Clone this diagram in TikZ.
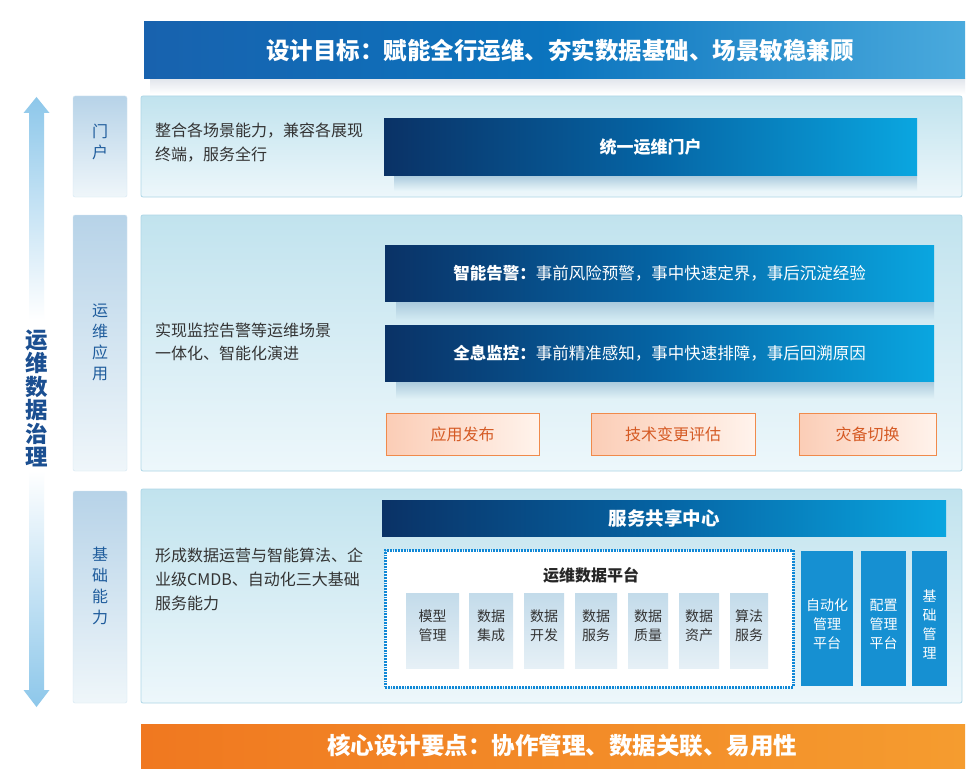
\documentclass[tikz,border=0pt]{standalone}
\usepackage{fontspec}
\setmainfont{Noto Sans CJK SC}
\definecolor{labtop}{HTML}{B7D3E8}
\definecolor{labbot}{HTML}{EFF6FA}
\definecolor{labdraw}{HTML}{D4E7F2}
\definecolor{labtxt}{HTML}{1F5C9C}
\definecolor{pantop}{HTML}{C1E3EE}
\definecolor{panbot}{HTML}{EDF7FB}
\definecolor{pandraw}{HTML}{AED7E7}
\definecolor{desctxt}{HTML}{333333}
\definecolor{navy}{HTML}{0A3266}
\definecolor{midblue}{HTML}{0564A4}
\definecolor{cyanb}{HTML}{0AA6E0}
\definecolor{topl}{HTML}{1862AE}
\definecolor{topm}{HTML}{0B74BE}
\definecolor{topr}{HTML}{4AAADD}
\definecolor{orl}{HTML}{F07820}
\definecolor{orr}{HTML}{F59C2F}
\definecolor{peachl}{HTML}{FBCDB6}
\definecolor{peachr}{HTML}{FFF3EC}
\definecolor{peachdraw}{HTML}{F08A4B}
\definecolor{peachtxt}{HTML}{D55A24}
\definecolor{smtop}{HTML}{C3DBEA}
\definecolor{smbot}{HTML}{E6F0F6}
\definecolor{colblue}{HTML}{1690D2}
\definecolor{dotblue}{HTML}{1088D6}
\definecolor{arrowb}{HTML}{8DC7EA}
\definecolor{bigtxt}{HTML}{1B4F91}
\definecolor{shadtop}{HTML}{A9C9DC}
\definecolor{pshA}{HTML}{E6F4F9}
\definecolor{pshB}{HTML}{D3EBF3}
\definecolor{pshC}{HTML}{E1F2F7}
\definecolor{topshad}{HTML}{E2E6EC}
\begin{document}
\begin{tikzpicture}[x=1pt,y=-1pt,
  labbox/.style={rectangle,top color=labtop,bottom color=labbot,draw=labdraw,rounded corners=2pt,inner sep=0},
  labtext/.style={font=\fontsize{16}{21}\selectfont,text=labtxt,align=center,inner sep=0},
  panel/.style={rectangle,top color=pantop,bottom color=panbot,draw=pandraw,line width=0.8pt,rounded corners=2pt,inner sep=0},
  desc/.style={anchor=west,align=left,text=desctxt,inner sep=0},
  darkbar/.style={rectangle,left color=navy,right color=cyanb,middle color=midblue,text=white,inner sep=0},
  orbox/.style={rectangle,left color=peachl,right color=peachr,draw=peachdraw,line width=1pt,text=peachtxt,
     font=\fontsize{16}{16}\selectfont,inner sep=0,minimum height=42pt},
  smbox/.style={rectangle,top color=smtop,bottom color=smbot,inner sep=0,minimum height=75pt},
  colbox/.style={rectangle,fill=colblue,inner sep=0,minimum height=135pt},
  coltext/.style={text=white,font=\fontsize{14}{19}\selectfont,align=center,inner sep=0}
]
\useasboundingbox (0,0) rectangle (980,781);
\fill[white] (0,0) rectangle (980,781);

% top banner
\path[top color=topshad,bottom color=white] (150,79) rectangle (965,94);
\node[rectangle,left color=topl,right color=topr,middle color=topm,inner sep=0,minimum width=821pt,minimum height=57pt] (goal) at (554.5,50.5) {};
\node[text=white,font=\fontsize{23.5}{23.5}\selectfont\bfseries,inner sep=0] (goaltext) at (560,50.5)
  {设计目标：赋能全行运维、夯实数据基础、场景敏稳兼顾};

% left big arrow
\path[top color=arrowb,bottom color=white] (23.5,113) -- (36.5,97) -- (49.5,113) -- (44,113) -- (44,320) -- (29,320) -- (29,113) -- cycle;
\path[top color=white,bottom color=arrowb] (29,470) -- (44,470) -- (44,690) -- (49.5,690) -- (36.5,707) -- (23.5,690) -- (29,690) -- cycle;
\node[text=bigtxt,font=\fontsize{22.5}{23.4}\selectfont\bfseries,align=center,inner sep=0] (gov) at (37,398.5)
  {运\\维\\数\\据\\治\\理};

% label column
\node[labbox,minimum width=54pt,minimum height=101pt] (l1) at (100,146.5) {};
\node[labtext] (l1t) at (100,142) {门\\户};
\node[labbox,minimum width=54pt,minimum height=256pt] (l2) at (100,343) {};
\node[labtext] (l2t) at (100,342) {运\\维\\应\\用};
\node[labbox,minimum width=54pt,minimum height=212pt] (l3) at (100,597) {};
\node[labtext] (l3t) at (100,586) {基\\础\\能\\力};

% panels
\node[panel,minimum width=821pt,minimum height=101pt] (p1) at (551.5,146.5) {};
\node[panel,minimum width=821pt,minimum height=256pt] (p2) at (551.5,343) {};
\node[panel,minimum width=821pt,minimum height=214pt] (p3) at (551.5,596) {};

% descriptions
\node[desc,font=\fontsize{16}{24}\selectfont] (d1) at (155,143) {整合各场景能力，兼容各展现\\终端，服务全行};
\node[desc,font=\fontsize{16}{23}\selectfont] (d2) at (155,341.5) {实现监控告警等运维场景\\一体化、智能化演进};
\node[desc,font=\fontsize{16}{24}\selectfont] (d3) at (155,579) {形成数据运营与智能算法、企\\业级CMDB、自动化三大基础\\服务能力};

% soft shadows under the dark bars
\path[top color=shadtop,bottom color=pshA] (394,175) rectangle (917,190);
\path[top color=shadtop,bottom color=pshB] (396,301.5) rectangle (934,320);
\path[top color=shadtop,bottom color=pshC] (396,381) rectangle (934,399);

% portal
\node[darkbar,minimum width=533pt,minimum height=56pt,font=\fontsize{17}{17}\selectfont\bfseries] (portal) at (650.5,147) {统一运维门户};

% apps
\node[darkbar,minimum width=549pt,minimum height=56pt,font=\fontsize{16.5}{16.5}\selectfont] (alarm) at (659.5,273.5)
  {\textbf{智能告警：}事前风险预警，事中快速定界，事后沉淀经验};
\node[darkbar,minimum width=549pt,minimum height=56pt,font=\fontsize{16.5}{16.5}\selectfont] (monitor) at (659.5,353)
  {\textbf{全息监控：}事前精准感知，事中快速排障，事后回溯原因};
\node[orbox,minimum width=153pt] (o1) at (462.5,434) {应用发布};
\node[orbox,minimum width=164pt] (o2) at (673,434) {技术变更评估};
\node[orbox,minimum width=137pt] (o3) at (867.5,434) {灾备切换};

% base
\node[darkbar,minimum width=564pt,minimum height=36pt,font=\fontsize{18.5}{18.5}\selectfont\bfseries] (share) at (664,518) {服务共享中心};
\node[rectangle,fill=white,draw=dotblue,line width=3pt,dash pattern=on 1.8pt off 1pt,inner sep=0,
  minimum width=408pt,minimum height=137pt] (plat) at (589,618.5) {};
\node[text=black!85,font=\fontsize{16}{16}\selectfont\bfseries,inner sep=0] (platt) at (591,575) {运维数据平台};
\node[smbox,minimum width=53pt] (s1) at (432.5,630.5) {};
\node[smbox,minimum width=44pt] (s2) at (491,630.5) {};
\node[smbox,minimum width=40pt] (s3) at (544,630.5) {};
\node[smbox,minimum width=42pt] (s4) at (596,630.5) {};
\node[smbox,minimum width=40pt] (s5) at (648,630.5) {};
\node[smbox,minimum width=40pt] (s6) at (699,630.5) {};
\node[smbox,minimum width=38pt] (s7) at (749,630.5) {};
\foreach \n/\x/\t in {a/432.5/模型\\管理, b/491/数据\\集成, c/544/数据\\开发, d/596/数据\\服务, e/648/数据\\质量, f/699/数据\\资产, g/749/算法\\服务}
  \node[text=desctxt,font=\fontsize{14}{19}\selectfont,align=center,inner sep=0] (st\n) at (\x,625.5) {\t};
\node[colbox,minimum width=52pt] (c1) at (827,618.5) {};
\node[colbox,minimum width=45pt] (c2) at (883.5,618.5) {};
\node[colbox,minimum width=35pt] (c3) at (929.5,618.5) {};
\node[coltext] (c1t) at (827,624) {自动化\\管理\\平台};
\node[coltext] (c2t) at (883.5,624) {配置\\管理\\平台};
\node[coltext] (c3t) at (929.5,624) {基\\础\\管\\理};

% bottom banner
\node[rectangle,left color=orl,right color=orr,inner sep=0,minimum width=824pt,minimum height=44pt] (core) at (553,746) {};
\node[text=white,font=\fontsize{23.5}{23.5}\selectfont\bfseries,inner sep=0] (coretext) at (562,746)
  {核心设计要点：协作管理、数据关联、易用性};
\end{tikzpicture}
\end{document}
